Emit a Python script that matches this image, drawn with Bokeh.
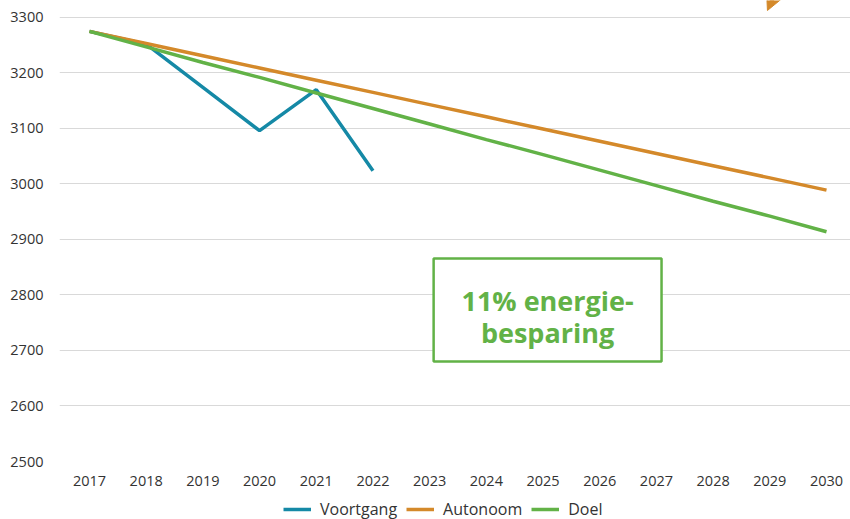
from bokeh.plotting import figure
from bokeh.layouts import column
from bokeh.models import Legend, LegendItem, BoxAnnotation, Label, FixedTicker, Range1d, Arrow, NormalHead
from bokeh.embed import file_html
from bokeh.resources import INLINE

years = [2017, 2018, 2019, 2020, 2021, 2022, 2023, 2024, 2025, 2026, 2027, 2028, 2029, 2030]
voortgang_years = [2017, 2018, 2019, 2020, 2021, 2022]
voortgang = [3275, 3252, 3174, 3096, 3170, 3024]
autonoom = [3275, 3253, 3231, 3209, 3187, 3165, 3143, 3121, 3099, 3077, 3055, 3033, 3011, 2989]
doel = [3275, 3247, 3219, 3192, 3164, 3136, 3108, 3080, 3053, 3025, 2997, 2969, 2942, 2914]
y_ticks = [2500, 2600, 2700, 2800, 2900, 3000, 3100, 3200, 3300]
series_names = ["Voortgang", "Autonoom", "Doel"]

TEAL = "#1589a6"
ORANGE = "#d4892a"
GREEN = "#62b247"
FONT = "Open Sans"

p = figure(width=850, height=496, output_backend="svg", toolbar_location=None,
           x_range=Range1d(2016.471, 2030.423), y_range=Range1d(2500, 3330.6),
           min_border_left=59, min_border_right=0, min_border_top=0, min_border_bottom=35)
p.outline_line_color = None
p.background_fill_color = "white"
p.border_fill_color = "white"

p.xgrid.grid_line_color = None
p.ygrid.grid_line_color = "#d9d9d9"
p.ygrid.grid_line_width = 1

p.xaxis.ticker = FixedTicker(ticks=years)
p.yaxis.ticker = FixedTicker(ticks=y_ticks)
for ax in (p.xaxis[0], p.yaxis[0]):
    ax.axis_line_color = None
    ax.major_tick_line_color = None
    ax.minor_tick_line_color = None
    ax.major_label_text_font = FONT
    ax.major_label_text_font_size = "14.5px"
    ax.major_label_text_color = "#333333"
p.yaxis.major_label_standoff = 10
p.xaxis.major_label_standoff = 8

p.line(voortgang_years, voortgang, line_color=TEAL, line_width=3.5)
p.line(years, autonoom, line_color=ORANGE, line_width=3.5)
p.line(years, doel, line_color=GREEN, line_width=3.5)

box = BoxAnnotation(left=2023.07, right=2027.09, bottom=2680.2, top=2865.7,
                    fill_color="white", fill_alpha=1.0,
                    line_color=GREEN, line_alpha=1.0, line_width=2.5)
p.add_layout(box)
p.add_layout(Label(x=2025.08, y=2790, text="11% energie-", text_align="center",
                   text_baseline="alphabetic", text_font=FONT, text_font_style="bold",
                   text_font_size="27px", text_color=GREEN))
p.add_layout(Label(x=2025.08, y=2732, text="besparing", text_align="center",
                   text_baseline="alphabetic", text_font=FONT, text_font_style="bold",
                   text_font_size="27px", text_color=GREEN))

p.add_layout(Arrow(x_start=2029.245, y_start=3378.3, x_end=2028.958, y_end=3312.6,
                   line_color=ORANGE, line_width=4,
                   end=NormalHead(size=24, fill_color=ORANGE, line_color=ORANGE)))

# legend strip below the chart (series drawn out of view, only legend shows)
lg = figure(width=850, height=23, output_backend="svg", toolbar_location=None,
            x_range=Range1d(0, 1), y_range=Range1d(0, 1),
            x_axis_location=None, y_axis_location=None,
            min_border_left=0, min_border_right=0, min_border_top=0, min_border_bottom=0)
lg.outline_line_color = None
lg.xgrid.grid_line_color = None
lg.ygrid.grid_line_color = None
lg.background_fill_color = "white"
lg.border_fill_color = "white"
series = [(voortgang_years, voortgang, TEAL), (years, autonoom, ORANGE), (years, doel, GREEN)]
items = []
for name, (xs, ys, col) in zip(series_names, series):
    r = lg.line(xs, ys, line_color=col, line_width=3.5)
    items.append(LegendItem(label=name, renderers=[r]))
legend = Legend(items=items, orientation="horizontal", location=(224, -1),
                label_text_font=FONT, label_text_font_size="16px",
                label_text_color="#333333", glyph_width=28, label_standoff=9,
                spacing=9, border_line_color=None, background_fill_alpha=0,
                padding=0, margin=0)
lg.add_layout(legend)

layout = column(p, lg, spacing=0)
open("out.html", "w").write(file_html(layout, INLINE))
